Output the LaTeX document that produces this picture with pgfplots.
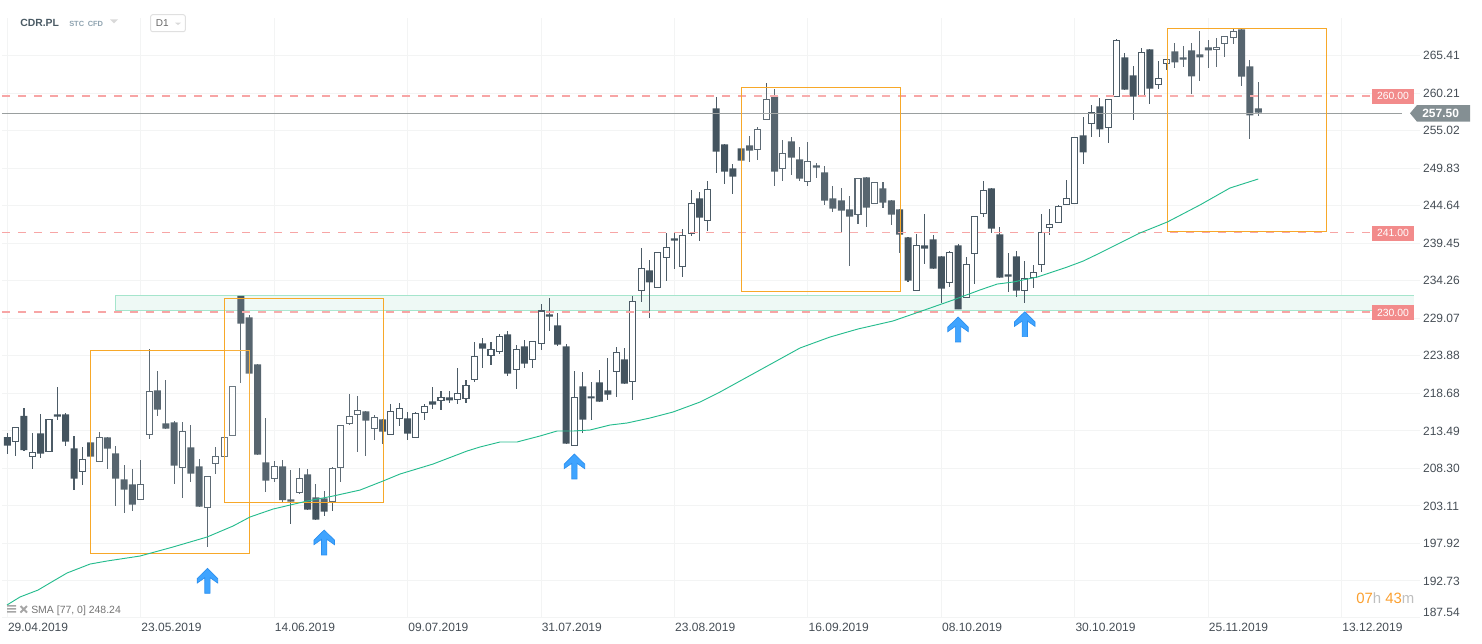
\documentclass[border=0pt]{standalone}
\usepackage{pgfplots}
\pgfplotsset{compat=1.18}
\usepackage{pgfplotstable}
\usepackage{fontspec}
\setmainfont{Liberation Sans}
\definecolor{bearc}{HTML}{44545F}
\definecolor{wickc}{HTML}{4C5B66}
\definecolor{gridc}{HTML}{F3F4F4}
\definecolor{ticktxt}{HTML}{454D55}
\definecolor{orangec}{HTML}{F7A829}
\definecolor{zonefill}{HTML}{EEF9F5}
\definecolor{zoneline}{HTML}{A5E5CC}
\definecolor{salmon}{HTML}{F7A5A5}
\definecolor{tagred}{HTML}{F28B8B}
\definecolor{smac}{HTML}{26BC8E}
\definecolor{pricel}{HTML}{9A9F9F}
\definecolor{pricetag}{HTML}{848F93}
\definecolor{arrowf}{HTML}{3FA4FF}
\definecolor{arrowd}{HTML}{2B8FEF}
\definecolor{cdorange}{HTML}{FB9F2E}
\pgfdeclareplotmark{uparr}{%
 \pgfpathmoveto{\pgfqpoint{0pt}{0pt}}%
 \pgfpathlineto{\pgfqpoint{7.7pt}{-7.6pt}}%
 \pgfpathlineto{\pgfqpoint{7.7pt}{-11pt}}%
 \pgfpathlineto{\pgfqpoint{2pt}{-7pt}}%
 \pgfpathlineto{\pgfqpoint{2pt}{-18.7pt}}%
 \pgfpathlineto{\pgfqpoint{-2pt}{-18.7pt}}%
 \pgfpathlineto{\pgfqpoint{-2pt}{-7pt}}%
 \pgfpathlineto{\pgfqpoint{-7.7pt}{-11pt}}%
 \pgfpathlineto{\pgfqpoint{-7.7pt}{-7.6pt}}%
 \pgfpathclose
 \pgfusepathqfillstroke}
\pgfplotstableread{
i open high low close
1 212.64 213.15 210.34 211.44
3 215.55 216.61 210.70 210.84
5 213.15 215.78 209.78 210.34
7 215.78 219.52 215.04 215.46
8 215.78 215.92 211.44 212.00
9 211.07 212.74 205.35 206.88
11 211.90 211.90 209.92 209.92
13 212.60 212.60 208.26 211.03
14 210.38 211.35 203.14 206.88
15 206.78 208.72 202.17 205.35
16 206.09 208.17 202.45 203.28
19 219.10 221.73 215.59 216.43
20 214.53 220.48 213.80 213.80
21 214.67 214.81 206.18 208.68
23 211.21 214.26 206.46 207.57
24 208.58 209.55 203.00 203.00
29 232.16 232.16 220.16 228.33
30 229.20 229.48 221.41 221.41
31 222.70 222.70 210.20 210.20
32 209.14 215.23 205.08 206.60
34 208.58 209.41 203.69 203.92
35 204.02 208.03 200.65 203.69
37 207.48 208.17 202.59 202.59
38 204.29 206.09 201.20 201.20
39 204.15 205.12 201.75 202.31
44 216.19 216.19 210.06 214.90
46 215.09 215.09 211.72 213.38
49 215.23 216.06 212.27 213.10
52 217.58 219.52 216.56 217.12
54 218.13 218.96 217.30 217.72
58 225.61 226.30 222.24 224.87
61 226.85 227.27 221.13 221.41
63 225.19 226.02 222.24 222.79
66 229.62 231.83 227.36 229.30
67 228.10 229.76 225.28 225.42
68 225.19 225.47 211.72 211.72
70 219.66 221.59 213.24 215.04
71 218.27 220.21 215.04 218.00
72 220.21 221.87 217.53 217.53
73 219.10 223.53 217.81 218.50
75 223.39 224.91 220.02 220.02
78 235.71 237.09 229.16 234.05
81 240.13 240.83 235.94 239.81
84 245.67 246.50 239.81 243.00
86 258.12 259.65 249.22 252.13
87 253.14 253.14 247.70 249.36
88 249.82 250.38 246.32 248.67
89 252.59 252.59 250.88 250.88
90 253.00 254.25 250.74 252.27
93 259.79 260.75 247.42 249.36
95 253.56 254.11 248.95 251.30
96 251.07 252.73 248.11 248.39
98 250.24 250.51 248.53 249.91
99 249.27 250.10 244.79 245.35
100 245.67 247.33 243.82 244.24
101 245.39 247.05 240.92 243.96
102 244.15 245.95 236.35 243.13
104 248.58 248.58 241.75 244.38
106 247.05 247.88 244.38 245.07
107 245.39 245.39 242.03 243.41
108 244.15 244.15 238.15 240.64
109 240.27 240.27 234.13 234.27
111 239.16 243.45 236.63 238.70
112 239.99 240.59 235.93 235.93
113 237.64 237.64 231.14 233.17
115 239.16 239.30 230.31 230.31
119 247.05 247.05 240.92 241.47
120 240.69 241.65 234.69 234.69
121 235.15 238.06 232.75 234.83
122 237.64 238.33 232.06 232.89
130 254.39 256.88 250.37 252.03
132 258.40 259.51 254.11 255.22
135 265.18 265.74 260.71 260.71
136 262.69 263.94 256.46 259.74
138 266.29 266.29 258.68 260.85
141 266.01 267.12 263.66 264.49
142 265.18 266.71 263.80 264.86
143 266.15 267.12 260.06 262.55
144 265.60 268.78 261.86 265.18
145 266.57 267.54 263.66 266.15
149 269.06 269.06 261.17 262.51
150 263.94 264.77 253.83 257.16
151 258.13 261.72 257.02 257.53
}\bear
\pgfplotstableread{
i open high low close
2 212.04 213.98 210.06 213.98
4 209.92 213.15 208.26 210.52
6 210.61 215.09 210.61 215.09
10 207.85 211.21 206.05 209.55
12 209.28 213.29 209.28 212.60
17 203.97 209.41 203.97 206.09
18 213.01 224.77 212.41 218.96
22 208.44 214.67 204.25 213.43
25 202.91 207.15 197.47 207.15
26 209.00 211.21 207.57 209.97
27 209.97 212.60 207.70 212.60
28 212.87 219.65 212.87 219.65
33 206.88 209.28 206.46 208.58
36 204.94 208.31 204.80 206.92
40 203.69 208.44 202.45 208.31
41 208.40 214.26 206.46 214.26
42 214.53 218.55 214.30 215.50
43 215.78 218.27 210.61 216.33
45 213.84 215.64 212.27 215.36
47 213.01 217.16 213.01 216.19
48 215.23 217.30 214.21 216.61
50 212.60 216.06 212.60 215.92
51 216.06 217.16 215.04 216.89
53 217.72 218.96 216.43 218.13
55 217.86 222.15 217.16 218.69
56 218.00 220.48 217.39 219.79
57 220.62 225.74 220.21 223.81
59 223.94 225.74 222.65 224.77
60 224.50 226.85 224.08 226.57
62 222.01 225.33 219.33 224.77
64 223.39 225.88 222.24 225.88
65 225.61 231.00 224.68 230.08
69 211.49 221.73 211.49 218.13
74 221.73 225.05 218.22 224.36
76 220.35 232.11 217.81 231.42
77 232.94 238.75 231.37 235.99
79 233.36 238.20 233.36 238.20
80 237.50 240.83 234.27 238.89
82 236.26 241.38 234.83 240.55
83 240.83 246.78 240.50 244.98
85 242.63 248.02 241.20 246.91
91 252.45 255.50 251.02 255.22
92 256.60 261.58 256.60 259.37
94 249.82 253.70 248.11 251.90
97 248.02 253.42 247.42 250.79
103 243.45 248.44 242.16 248.44
105 244.98 247.88 244.98 247.88
110 232.94 240.69 232.94 239.16
114 234.04 238.33 233.44 238.19
116 231.97 237.50 231.97 236.53
117 238.06 243.18 233.86 243.18
118 243.59 248.02 243.13 246.77
123 232.94 236.95 231.23 234.60
124 234.73 236.40 233.30 235.38
125 236.53 243.45 235.52 240.96
126 241.65 244.15 240.64 242.07
127 242.35 244.70 242.35 244.56
128 244.84 248.16 244.70 245.67
129 244.98 254.11 244.98 254.11
131 256.05 258.54 254.11 257.57
133 255.50 259.37 253.28 259.37
134 259.74 267.67 259.74 267.54
137 259.92 266.43 259.92 265.88
139 261.45 264.63 260.75 262.28
140 264.35 264.91 263.38 264.91
146 266.29 267.81 263.80 266.57
147 267.12 268.09 265.18 268.09
148 267.95 269.06 266.98 268.78
}\bull
\pgfplotsset{base/.style={
  scale only axis, width=1063.5pt, height=449.475pt,
  xmin=0.364, xmax=170.39, ymin=187.69, ymax=270.63,
  at={(1.5pt,-462.975pt)}, anchor=south west, clip=false}}
\begin{document}
\begin{tikzpicture}
\path[use as bounding box] (0pt,0pt) rectangle (1111.5pt,-482.25pt);
% grid, zone, tick labels and wicks
\begin{axis}[base,
  axis line style={draw=none}, major tick length=0pt,
  grid=major, grid style={gridc, line width=0.75pt},
  xtick={1,17,33,49,65,81,97,113,129,145,161},
  xticklabels={29.04.2019,23.05.2019,14.06.2019,09.07.2019,31.07.2019,23.08.2019,16.09.2019,08.10.2019,30.10.2019,25.11.2019,13.12.2019},
  ytick={192.73,197.92,203.11,208.30,213.49,218.68,223.88,229.07,234.26,239.45,244.64,249.83,255.02,260.21,265.41},
  yticklabels={192.73,197.92,203.11,208.30,213.49,218.68,223.88,229.07,234.26,239.45,244.64,249.83,255.02,260.21,265.41},
  extra y ticks={187.69}, extra y tick labels={187.54},
  extra y tick style={yticklabel style={yshift=3.4pt}},
  yticklabel pos=right,
  /pgf/number format/assume math mode=true,
  ticklabel style={font=\fontsize{9}{10}\selectfont, text=ticktxt},
  xticklabel style={anchor=north west, xshift=-3pt, yshift=-1pt},
  yticklabel style={anchor=west, xshift=-1.2pt}]
\addplot[draw=none, fill=zonefill, forget plot] coordinates {(13.95,230.15)(169.66,230.15)(169.66,232.22)(13.95,232.22)} --cycle;
\addplot[zoneline, line width=0.75pt, forget plot] coordinates {(169.66,230.15)(13.95,230.15)(13.95,232.22)(169.66,232.22)};
\addplot[draw=none, mark=none, forget plot,
  error bars/.cd, y dir=both, y explicit, error mark=none,
  error bar style={line width=0.8pt, color=wickc}]
  table[x=i, y=close, y error plus expr=\thisrow{high}-\thisrow{close}, y error minus expr=\thisrow{close}-\thisrow{low}]{\bear};
\addplot[draw=none, mark=none, forget plot,
  error bars/.cd, y dir=both, y explicit, error mark=none,
  error bar style={line width=0.8pt, color=wickc}]
  table[x=i, y=close, y error plus expr=\thisrow{high}-\thisrow{close}, y error minus expr=\thisrow{close}-\thisrow{low}]{\bull};
\end{axis}
% falling candles
\begin{axis}[base, hide axis, ybar stacked, bar width=5.25pt]
\addplot[draw=none, fill=none] table[x=i, y=close]{\bear};
\addplot[draw=none, fill=bearc] table[x=i, y expr=\thisrow{open}-\thisrow{close}]{\bear};
\end{axis}
% rising candles
\begin{axis}[base, hide axis, ybar stacked, bar width=4.5pt]
\addplot[draw=none, fill=none] table[x=i, y=open]{\bull};
\addplot[draw=wickc, line width=0.8pt, fill=white] table[x=i, y expr=\thisrow{close}-\thisrow{open}]{\bull};
\end{axis}
% overlays
\begin{axis}[base, hide axis]
\addplot[salmon, line width=0.85pt, dash pattern=on 6pt off 6pt] coordinates {(0.364,259.83)(164.6,259.83)};
\addplot[salmon, line width=0.85pt, dash pattern=on 6pt off 6pt] coordinates {(0.364,240.90)(164.6,240.90)};
\addplot[salmon, line width=0.85pt, dash pattern=on 6pt off 6pt] coordinates {(0.364,229.94)(164.6,229.94)};
\addplot[pricel, line width=0.85pt] coordinates {(0.364,257.46)(168.2,257.46)};
\addplot[orangec, line width=0.8pt, fill=white, fill opacity=0.1] coordinates {(10.95,196.54)(30.02,196.54)(30.02,224.64)(10.95,224.64)} --cycle;
\addplot[orangec, line width=0.8pt, fill=white, fill opacity=0.1] coordinates {(27.02,203.60)(46.08,203.60)(46.08,231.83)(27.02,231.83)} --cycle;
\addplot[orangec, line width=0.8pt, fill=white, fill opacity=0.1] coordinates {(89.01,232.80)(108.07,232.80)(108.07,261.04)(89.01,261.04)} --cycle;
\addplot[orangec, line width=0.8pt, fill=white, fill opacity=0.1] coordinates {(140.09,241.11)(159.2,241.11)(159.2,269.20)(140.09,269.20)} --cycle;
\addplot[smac, line width=0.7pt] coordinates {
(0.96,189.39)(2.52,190.50)(4.68,191.46)(6.72,192.85)(8.16,193.82)(10.92,195.06)(12.95,195.48)(16.91,196.17)
(20.87,197.42)(24.95,198.80)(28.06,200.32)(30.10,201.57)(32.86,202.67)(36.94,203.78)(40.05,204.47)(43.29,205.30)
(46.05,206.55)(48.09,207.52)(52.04,208.90)(56.12,210.70)(57.68,211.26)(60.07,211.95)(62.11,211.95)(64.87,212.78)
(66.91,213.47)(68.83,213.47)(70.87,213.61)(73.27,214.30)(75.31,214.58)(78.06,215.27)(80.82,216.10)(84.06,217.48)
(86.46,218.87)(91.25,221.91)(96.05,224.96)(99.65,226.48)(103.00,227.59)(107.2,228.70)(109.6,229.66)(114.4,231.60)
(117.6,232.98)(119.7,233.81)(121.6,234.09)(124.5,234.78)(128.1,236.17)(130.0,236.99)(132.0,238.10)(134.4,239.49)
(136.8,240.87)(140.1,242.40)(144.0,244.75)(147.6,247.10)(151.0,248.35)};
\addplot[only marks, mark=uparr, draw=none, forget plot, mark options={solid, fill=arrowf, draw=arrowd, line width=0.5pt}] coordinates {(25,194.46)(39,199.77)(69,210.29)(115,229.25)(123,229.98)};
\end{axis}
% price tags and header, in image pixels
\begin{scope}[x=0.75pt, y=-0.75pt]
\foreach \yy/\tt in {96.4/260.00, 233.3/241.00, 312.6/230.00}{
  \fill[tagred] (1372,\yy-7.4) rectangle (1414,\yy+7.4);
  \node[text=white, font=\fontsize{7.8}{9}\selectfont, inner sep=0pt] at (1393,\yy) {\tt};
}
\fill[pricetag] (1410,113.3) -- (1417,105) -- (1470,105) -- (1470,121.7) -- (1417,121.7) -- cycle;
\node[text=white, font=\bfseries\fontsize{9}{10}\selectfont, inner sep=0pt, anchor=west] at (1422,113.6) {257.50};
\node[text={rgb,255:red,74;green,90;blue,100}, font=\bfseries\fontsize{7.8}{10}\selectfont, inner sep=0pt, anchor=west] at (20,23) {CDR.PL};
\node[text={rgb,255:red,143;green,163;blue,176}, font=\bfseries\fontsize{5.6}{7}\selectfont, inner sep=0pt, anchor=west] at (69,23.5) {STC};
\node[text={rgb,255:red,143;green,163;blue,176}, font=\bfseries\fontsize{5.6}{7}\selectfont, inner sep=0pt, anchor=west] at (87.5,23.5) {CFD};
\fill[black!15] (110,19.3) -- (118,19.3) -- (114,23.3) -- cycle;
\draw[black!12, line width=0.75pt, rounded corners=1.5pt] (150.7,14.7) rectangle (185.3,31.7);
\node[text=black!60, font=\fontsize{7.5}{9}\selectfont, inner sep=0pt, anchor=west] at (155.7,23) {D1};
\fill[black!15] (175,22.7) -- (181,22.7) -- (178,25) -- cycle;
% SMA legend
\fill[black!35] (7,605) rectangle (16,606.5) (7,608) rectangle (16,609.5) (7,611) rectangle (16,612.5);
\draw[black!35, line width=1.4pt] (20.5,606) -- (27,612.5) (27,606) -- (20.5,612.5);
\node[text=black!55, font=\fontsize{7.85}{9}\selectfont, inner sep=0pt, anchor=west] at (31,610.5) {SMA [77, 0] 248.24};
% countdown
\node[font=\fontsize{11.2}{13}\selectfont, inner sep=0pt, anchor=west] at (1356,598) {\textcolor{cdorange}{07}\textcolor{black!25}{h} \textcolor{cdorange}{43}\textcolor{black!25}{m}};
\end{scope}
\end{tikzpicture}
\end{document}
